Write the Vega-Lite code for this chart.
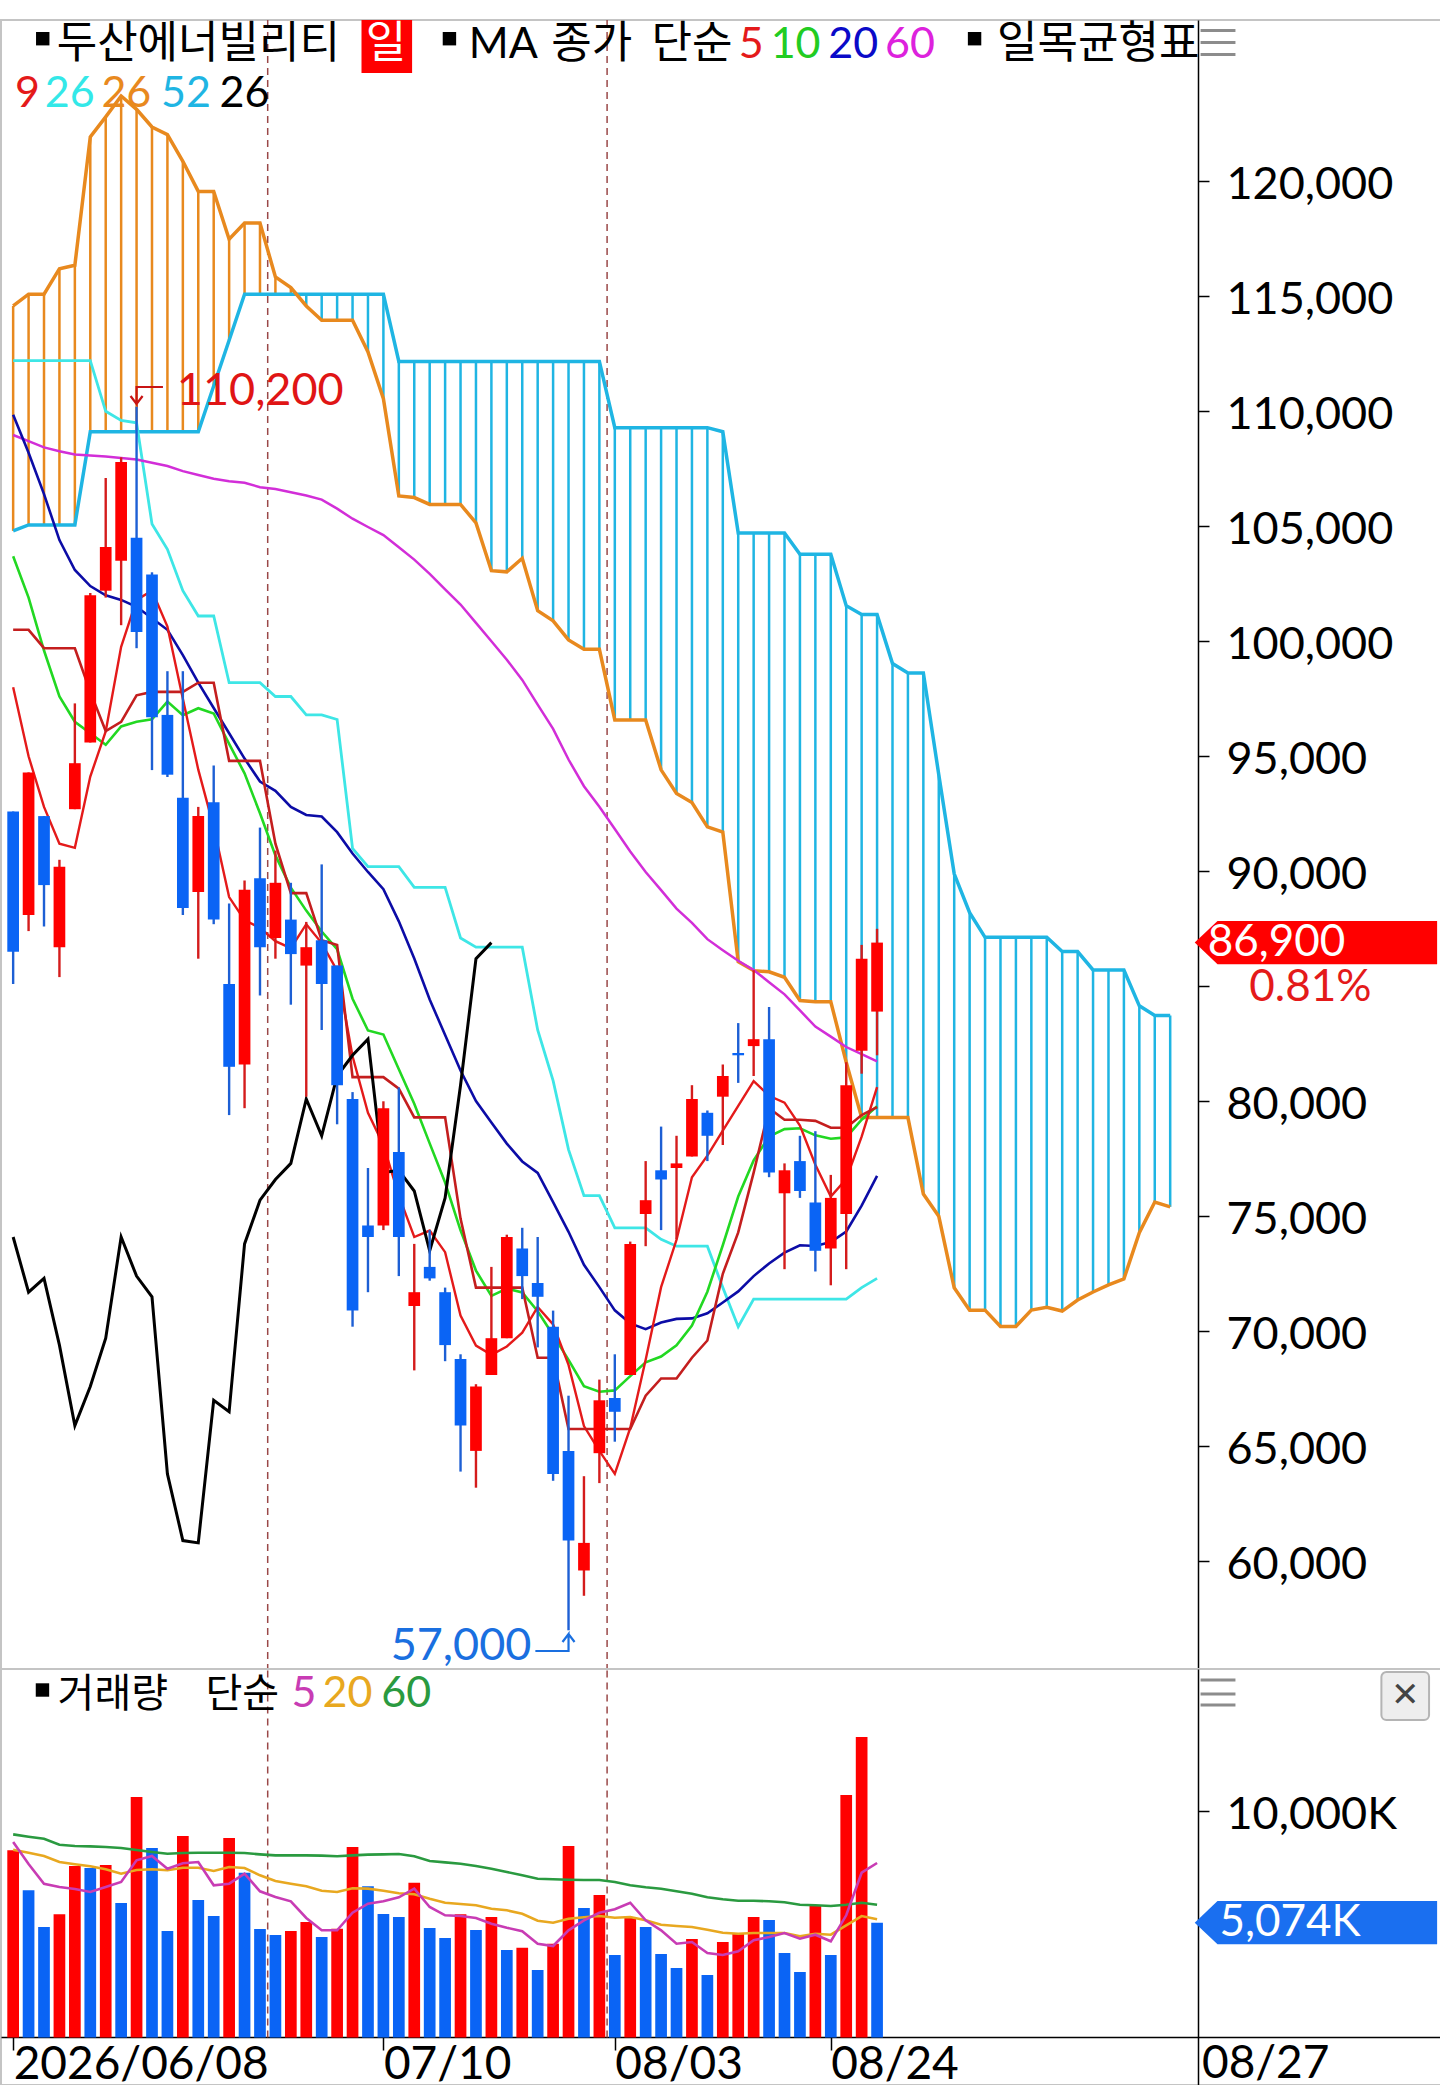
{
  "$schema": "https://vega.github.io/schema/vega-lite/v6.json",
  "background": "#ffffff",
  "padding": {"left": 0, "top": 18, "right": 0, "bottom": 2},
  "spacing": 0,
  "bounds": "flush",
  "resolve": {"scale": {"color": "independent"}},
  "datasets": {
    "months": [{"i": 17.5}, {"i": 39.5}],
    "candles": [
      {"i":1,"d":"2026-06-08","o":92600,"h":92600,"l":85100,"c":86500,"v":8275,"m5":98000,"m10":103700,"m20":109850,"m60":108970,"cv":100500,"bs":112200,"lg":74100,"vm5":8642,"vm20":8302,"vm60":8981},
      {"i":2,"d":"2026-06-09","o":88100,"h":94300,"l":87400,"c":94300,"v":6506,"m5":95000,"m10":101900,"m20":108200,"m60":108700,"cv":100500,"bs":112200,"lg":71700,"vm5":7669,"vm20":8169,"vm60":8877},
      {"i":3,"d":"2026-06-10","o":92400,"h":92400,"l":87600,"c":89400,"v":4883,"m5":92800,"m10":99600,"m20":106400,"m60":108430,"cv":99700,"bs":112200,"lg":72300,"vm5":6798,"vm20":8023,"vm60":8788},
      {"i":4,"d":"2026-06-11","o":86700,"h":90500,"l":85400,"c":90200,"v":5444,"m5":91200,"m10":97600,"m20":104400,"m60":108260,"cv":99700,"bs":112200,"lg":69400,"vm5":6652,"vm20":7758,"vm60":8523},
      {"i":5,"d":"2026-06-12","o":92700,"h":97300,"l":92700,"c":94700,"v":7581,"m5":91020,"m10":96500,"m20":103100,"m60":108120,"cv":99700,"bs":112200,"lg":65900,"vm5":6564,"vm20":7656,"vm60":8465},
      {"i":6,"d":"2026-06-15","o":95600,"h":102100,"l":95600,"c":102000,"v":7492,"m5":94120,"m10":96000,"m20":102400,"m60":108080,"cv":97800,"bs":112200,"lg":67600,"vm5":6431,"vm20":7567,"vm60":8451},
      {"i":7,"d":"2026-06-16","o":102200,"h":107100,"l":101900,"c":104100,"v":7625,"m5":96080,"m10":95500,"m20":102000,"m60":108030,"cv":96100,"bs":110000,"lg":69700,"vm5":6652,"vm20":7435,"vm60":8421},
      {"i":8,"d":"2026-06-17","o":103500,"h":108000,"l":100700,"c":107800,"v":5944,"m5":99760,"m10":96300,"m20":101800,"m60":107970,"cv":96500,"bs":109600,"lg":74100,"vm5":6873,"vm20":7240,"vm60":8377},
      {"i":9,"d":"2026-06-18","o":104500,"h":110200,"l":99700,"c":100400,"v":10632,"m5":101800,"m10":96500,"m20":101500,"m60":107900,"cv":97650,"bs":109500,"lg":72400,"vm5":7833,"vm20":7404,"vm60":8288},
      {"i":10,"d":"2026-06-19","o":102900,"h":103000,"l":94400,"c":96700,"v":8377,"m5":102200,"m10":96610,"m20":101000,"m60":107760,"cv":97800,"bs":105100,"lg":71500,"vm5":8023,"vm20":7435,"vm60":8200},
      {"i":11,"d":"2026-06-22","o":96800,"h":98700,"l":94100,"c":94200,"v":4706,"m5":100640,"m10":97380,"m20":100500,"m60":107620,"cv":97800,"bs":104000,"lg":63800,"vm5":7461,"vm20":7391,"vm60":8125},
      {"i":12,"d":"2026-06-23","o":93200,"h":98700,"l":88100,"c":88400,"v":8908,"m5":97500,"m10":96790,"m20":99400,"m60":107400,"cv":97800,"bs":102200,"lg":60900,"vm5":7700,"vm20":7506,"vm60":8155},
      {"i":13,"d":"2026-06-24","o":89100,"h":92800,"l":86200,"c":92400,"v":6077,"m5":94420,"m10":97090,"m20":98200,"m60":107230,"cv":98200,"bs":101100,"lg":60800,"vm5":7758,"vm20":7506,"vm60":8170},
      {"i":14,"d":"2026-06-25","o":93000,"h":94600,"l":87700,"c":87900,"v":5369,"m5":91920,"m10":96860,"m20":97100,"m60":107070,"cv":98200,"bs":101100,"lg":67000,"vm5":6727,"vm20":7360,"vm60":8170},
      {"i":15,"d":"2026-06-26","o":85100,"h":88600,"l":79400,"c":81500,"v":8819,"m5":88880,"m10":95540,"m20":96000,"m60":106960,"cv":94800,"bs":98200,"lg":66500,"vm5":6798,"vm20":7536,"vm60":8170},
      {"i":16,"d":"2026-06-29","o":81600,"h":89600,"l":79700,"c":89200,"v":7285,"m5":87880,"m10":94260,"m20":94900,"m60":106890,"cv":94800,"bs":98200,"lg":73800,"vm5":7240,"vm20":7494,"vm60":8155},
      {"i":17,"d":"2026-06-30","o":89700,"h":91900,"l":84600,"c":86700,"v":4794,"m5":87540,"m10":92520,"m20":93900,"m60":106700,"cv":94800,"bs":98200,"lg":75700,"vm5":6462,"vm20":7169,"vm60":8097},
      {"i":18,"d":"2026-07-01","o":87100,"h":90900,"l":86200,"c":89500,"v":4529,"m5":86960,"m10":90690,"m20":93500,"m60":106620,"cv":91200,"bs":97600,"lg":76600,"vm5":6210,"vm20":6917,"vm60":8053},
      {"i":19,"d":"2026-07-02","o":87900,"h":89500,"l":84200,"c":86400,"v":4706,"m5":86660,"m10":89290,"m20":92800,"m60":106480,"cv":89050,"bs":97600,"lg":77300,"vm5":6019,"vm20":6798,"vm60":8053},
      {"i":20,"d":"2026-07-03","o":85900,"h":87800,"l":80200,"c":86700,"v":5104,"m5":87700,"m10":88290,"m20":92450,"m60":106340,"cv":89050,"bs":96800,"lg":80100,"vm5":5281,"vm20":6683,"vm60":8053},
      {"i":21,"d":"2026-07-06","o":87000,"h":90300,"l":83100,"c":85100,"v":4440,"m5":86880,"m10":87380,"m20":92380,"m60":106160,"cv":87000,"bs":96800,"lg":78500,"vm5":4737,"vm20":6488,"vm60":8040},
      {"i":22,"d":"2026-07-07","o":85900,"h":85900,"l":79000,"c":80700,"v":4809,"m5":85680,"m10":86610,"m20":91700,"m60":105770,"cv":86800,"bs":96600,"lg":81100,"vm5":4737,"vm20":6431,"vm60":8010},
      {"i":23,"d":"2026-07-08","o":80100,"h":80400,"l":70200,"c":70900,"v":8421,"m5":81960,"m10":84460,"m20":90775,"m60":105330,"cv":81050,"bs":91000,"lg":82000,"vm5":5515,"vm20":6594,"vm60":8053},
      {"i":24,"d":"2026-07-09","o":74600,"h":77100,"l":71700,"c":74100,"v":6682,"m5":79500,"m10":83080,"m20":89970,"m60":104970,"cv":81050,"bs":90200,"lg":82700,"vm5":5913,"vm20":6579,"vm60":8083},
      {"i":25,"d":"2026-07-10","o":74600,"h":80000,"l":74400,"c":79700,"v":5458,"m5":78100,"m10":82900,"m20":89220,"m60":104620,"cv":81050,"bs":90200,"lg":76900,"vm5":6019,"vm20":6488,"vm60":8097},
      {"i":26,"d":"2026-07-13","o":77800,"h":80600,"l":72400,"c":74100,"v":5325,"m5":75900,"m10":81390,"m20":87825,"m60":104090,"cv":80550,"bs":90200,"lg":77000,"vm5":6196,"vm20":6373,"vm60":8112},
      {"i":27,"d":"2026-07-14","o":71100,"h":73800,"l":68300,"c":71700,"v":6843,"m5":74100,"m10":79890,"m20":86205,"m60":103550,"cv":79300,"bs":89300,"lg":76100,"vm5":6577,"vm20":6329,"vm60":8010},
      {"i":28,"d":"2026-07-15","o":72800,"h":74400,"l":72200,"c":72300,"v":4839,"m5":74380,"m10":78170,"m20":84430,"m60":102930,"cv":79300,"bs":89300,"lg":73500,"vm5":5767,"vm20":6134,"vm60":7802},
      {"i":29,"d":"2026-07-16","o":71700,"h":71900,"l":68700,"c":69400,"v":4396,"m5":73440,"m10":76470,"m20":82880,"m60":102260,"cv":79300,"bs":89300,"lg":75800,"vm5":5400,"vm20":5958,"vm60":7743},
      {"i":30,"d":"2026-07-20","o":68800,"h":69000,"l":63900,"c":65900,"v":5444,"m5":70680,"m10":74390,"m20":81340,"m60":101600,"cv":74900,"bs":87100,"lg":80700,"vm5":5369,"vm20":5900,"vm60":7683},
      {"i":31,"d":"2026-07-21","o":64800,"h":67700,"l":63200,"c":67600,"v":4750,"m5":69380,"m10":72640,"m20":80010,"m60":100800,"cv":71900,"bs":86700,"lg":86200,"vm5":5281,"vm20":5842,"vm60":7581},
      {"i":32,"d":"2026-07-22","o":68100,"h":72800,"l":68100,"c":69700,"v":5325,"m5":68980,"m10":71540,"m20":79075,"m60":100000,"cv":71900,"bs":86700,"lg":86900,"vm5":5029,"vm20":5692,"vm60":7461},
      {"i":33,"d":"2026-07-23","o":69700,"h":74200,"l":69700,"c":74100,"v":3866,"m5":69340,"m10":71860,"m20":78160,"m60":99200,"cv":71900,"bs":86700,"vm5":4852,"vm20":5621,"vm60":7315},
      {"i":34,"d":"2026-07-24","o":73600,"h":74500,"l":71400,"c":72400,"v":3969,"m5":69940,"m10":71690,"m20":77385,"m60":98320,"cv":71900,"bs":86700,"vm5":4693,"vm20":5471,"vm60":7169},
      {"i":35,"d":"2026-07-27","o":72100,"h":74100,"l":69300,"c":71500,"v":2981,"m5":71060,"m10":70870,"m20":76885,"m60":97250,"cv":68850,"bs":83100,"vm5":4144,"vm20":5161,"vm60":7019},
      {"i":36,"d":"2026-07-28","o":70200,"h":70900,"l":63500,"c":63800,"v":4146,"m5":70300,"m10":69840,"m20":75615,"m60":96190,"cv":68850,"bs":80900,"vm5":4043,"vm20":5073,"vm60":6992},
      {"i":37,"d":"2026-07-29","o":64800,"h":67200,"l":57000,"c":60900,"v":8465,"m5":68540,"m10":68760,"m20":74325,"m60":94860,"cv":65750,"bs":77900,"vm5":4737,"vm20":5250,"vm60":6975},
      {"i":38,"d":"2026-07-30","o":59600,"h":63700,"l":58500,"c":60800,"v":5723,"m5":65880,"m10":67610,"m20":72890,"m60":93700,"cv":65750,"bs":75900,"vm5":5179,"vm20":5312,"vm60":6961},
      {"i":39,"d":"2026-07-31","o":64700,"h":67900,"l":63400,"c":67000,"v":6298,"m5":64800,"m10":67370,"m20":71920,"m60":92810,"cv":65750,"bs":75900,"vm5":5515,"vm20":5369,"vm60":6961},
      {"i":40,"d":"2026-08-03","o":67100,"h":69000,"l":65200,"c":66500,"v":3644,"m5":63800,"m10":67430,"m20":70910,"m60":91840,"cv":65750,"bs":74500,"vm5":5666,"vm20":5294,"vm60":6873},
      {"i":41,"d":"2026-08-04","o":68100,"h":73900,"l":68100,"c":73800,"v":5325,"m5":65800,"m10":68050,"m20":70345,"m60":90860,"cv":65750,"bs":74500,"vm5":5958,"vm20":5325,"vm60":6727},
      {"i":42,"d":"2026-08-05","o":75100,"h":77400,"l":73700,"c":75700,"v":4883,"m5":68760,"m10":68650,"m20":70095,"m60":89970,"cv":67200,"bs":74500,"vm5":5179,"vm20":5179,"vm60":6638},
      {"i":43,"d":"2026-08-06","o":77000,"h":78900,"l":74400,"c":76600,"v":3689,"m5":71920,"m10":68900,"m20":70380,"m60":89180,"cv":67950,"bs":74000,"vm5":4737,"vm20":4984,"vm60":6577},
      {"i":44,"d":"2026-08-07","o":77100,"h":78500,"l":74000,"c":77300,"v":3069,"m5":73980,"m10":69390,"m20":70540,"m60":88380,"cv":67950,"bs":73700,"vm5":4144,"vm20":4927,"vm60":6462},
      {"i":45,"d":"2026-08-10","o":77600,"h":80700,"l":77600,"c":80100,"v":4352,"m5":76700,"m10":70250,"m20":70560,"m60":87760,"cv":68850,"bs":73700,"vm5":4219,"vm20":4883,"vm60":6356},
      {"i":46,"d":"2026-08-11","o":79500,"h":79600,"l":77400,"c":78500,"v":2760,"m5":77640,"m10":71720,"m20":70780,"m60":87050,"cv":69600,"bs":73700,"vm5":3733,"vm20":4763,"vm60":6196},
      {"i":47,"d":"2026-08-12","o":80200,"h":81600,"l":78100,"c":81100,"v":4219,"m5":78720,"m10":73740,"m20":71250,"m60":86570,"cv":72500,"bs":71900,"vm5":3644,"vm20":4631,"vm60":6108},
      {"i":48,"d":"2026-08-13","o":82100,"h":83400,"l":80800,"c":82000,"v":4573,"m5":79800,"m10":75860,"m20":71735,"m60":86110,"cv":74300,"bs":70200,"vm5":3808,"vm20":4586,"vm60":6046},
      {"i":49,"d":"2026-08-14","o":82400,"h":85700,"l":81100,"c":82700,"v":5325,"m5":80880,"m10":77430,"m20":72400,"m60":85710,"cv":76900,"bs":71400,"vm5":4295,"vm20":4616,"vm60":6046},
      {"i":50,"d":"2026-08-18","o":82700,"h":84100,"l":76700,"c":76900,"v":5192,"m5":80240,"m10":78470,"m20":72950,"m60":85180,"cv":79700,"bs":71400,"vm5":4440,"vm20":4616,"vm60":6019},
      {"i":51,"d":"2026-08-19","o":76000,"h":77300,"l":72700,"c":77000,"v":3733,"m5":79940,"m10":78790,"m20":73420,"m60":84650,"cv":79200,"bs":71400,"vm5":4617,"vm20":4616,"vm60":5975},
      {"i":52,"d":"2026-08-20","o":77400,"h":78500,"l":75800,"c":76100,"v":2893,"m5":78940,"m10":78830,"m20":73740,"m60":83950,"cv":79200,"bs":71400,"vm5":4365,"vm20":4471,"vm60":5869},
      {"i":53,"d":"2026-08-21","o":75600,"h":78700,"l":72600,"c":73500,"v":5812,"m5":77240,"m10":78520,"m20":73710,"m60":83250,"cv":79150,"bs":71400,"vm5":4542,"vm20":4586,"vm60":5842},
      {"i":54,"d":"2026-08-24","o":73600,"h":76800,"l":72000,"c":75800,"v":3644,"m5":75860,"m10":78370,"m20":73880,"m60":82810,"cv":78850,"bs":71400,"vm5":4250,"vm20":4542,"vm60":5812},
      {"i":55,"d":"2026-08-25","o":75100,"h":81700,"l":72700,"c":80700,"v":10721,"m5":76620,"m10":78430,"m20":74340,"m60":82360,"cv":78850,"bs":71400,"vm5":5400,"vm20":4958,"vm60":5869},
      {"i":56,"d":"2026-08-26","o":82200,"h":86800,"l":81200,"c":86200,"v":13286,"m5":78460,"m10":79200,"m20":75460,"m60":82050,"cv":79400,"bs":71900,"vm5":7285,"vm20":5369,"vm60":5958},
      {"i":57,"d":"2026-08-27","o":83900,"h":87500,"l":82000,"c":86900,"v":5074,"m5":80620,"m10":79780,"m20":76760,"m60":81740,"cv":79750,"bs":72300,"vm5":7713,"vm20":5223,"vm60":5869}
    ],
    "cloud": [
      {"i":1,"a":114580,"b":104800},{"i":2,"a":115090,"b":105060},{"i":3,"a":115090,"b":105060},{"i":4,"a":116200,"b":105060},
      {"i":5,"a":116350,"b":105060},{"i":6,"a":121930,"b":109110},{"i":7,"a":122800,"b":109110},{"i":8,"a":123710,"b":109110},
      {"i":9,"a":123130,"b":109110},{"i":10,"a":122360,"b":109110},{"i":11,"a":122030,"b":109110},{"i":12,"a":120870,"b":109110},
      {"i":13,"a":119560,"b":109110},{"i":14,"a":119560,"b":111100},{"i":15,"a":117480,"b":113090},{"i":16,"a":118190,"b":115090},
      {"i":17,"a":118190,"b":115090},{"i":18,"a":115840,"b":115090},{"i":19,"a":115380,"b":115090},{"i":20,"a":114580,"b":115090},
      {"i":21,"a":113960,"b":115090},{"i":22,"a":113960,"b":115090},{"i":23,"a":113960,"b":115090},{"i":24,"a":112580,"b":115090},
      {"i":25,"a":110550,"b":115090},{"i":26,"a":106320,"b":112170},{"i":27,"a":106250,"b":112170},{"i":28,"a":105950,"b":112170},
      {"i":29,"a":105950,"b":112170},{"i":30,"a":105950,"b":112170},{"i":31,"a":105150,"b":112170},{"i":32,"a":103070,"b":112170},
      {"i":33,"a":103020,"b":112170},{"i":34,"a":103610,"b":112170},{"i":35,"a":101330,"b":112170},{"i":36,"a":100890,"b":112170},
      {"i":37,"a":100060,"b":112170},{"i":38,"a":99650,"b":112170},{"i":39,"a":99650,"b":112170},{"i":40,"a":96580,"b":109290},
      {"i":41,"a":96580,"b":109290},{"i":42,"a":96580,"b":109290},{"i":43,"a":94410,"b":109290},{"i":44,"a":93380,"b":109290},
      {"i":45,"a":92990,"b":109290},{"i":46,"a":91930,"b":109290},{"i":47,"a":91710,"b":109110},{"i":48,"a":86070,"b":104710},
      {"i":49,"a":85680,"b":104710},{"i":50,"a":85630,"b":104710},{"i":51,"a":85390,"b":104710},{"i":52,"a":84380,"b":103780},
      {"i":53,"a":84330,"b":103780},{"i":54,"a":84330,"b":103780},{"i":55,"a":81700,"b":101550},{"i":56,"a":79290,"b":101160},
      {"i":57,"a":79290,"b":101160},{"i":58,"a":79290,"b":99030},{"i":59,"a":79290,"b":98620},{"i":60,"a":75970,"b":98620},
      {"i":61,"a":75000,"b":94200},{"i":62,"a":71890,"b":89890},{"i":63,"a":70920,"b":88200},{"i":64,"a":70920,"b":87130},
      {"i":65,"a":70210,"b":87130},{"i":66,"a":70210,"b":87130},{"i":67,"a":70920,"b":87130},{"i":68,"a":71040,"b":87130},
      {"i":69,"a":70880,"b":86510},{"i":70,"a":71360,"b":86510},{"i":71,"a":71710,"b":85710},{"i":72,"a":72020,"b":85710},
      {"i":73,"a":72280,"b":85710},{"i":74,"a":74290,"b":84150},{"i":75,"a":75620,"b":83730},{"i":76,"a":75410,"b":83730}
    ],
    "arrows": [
      {"g":"hi","n":1,"i":10.71,"p":111057},{"g":"hi","n":2,"i":9.0,"p":111057},{"g":"hi","n":3,"i":9.0,"p":110317},
      {"g":"hi","n":4,"i":8.61,"p":110665},{"g":"hi","n":5,"i":9.0,"p":110317},{"g":"hi","n":6,"i":9.39,"p":110665},
      {"g":"lo","n":1,"i":34.85,"p":56100},{"g":"lo","n":2,"i":37.0,"p":56100},{"g":"lo","n":3,"i":37.0,"p":56839},
      {"g":"lo","n":4,"i":36.61,"p":56491},{"g":"lo","n":5,"i":37.0,"p":56839},{"g":"lo","n":6,"i":37.39,"p":56491}
    ],
    "ptext": [
      {"g":"kr","t":"두산에너빌리티","i":3.82,"p":125361,"k":"종목"},
      {"g":"kr","t":"일","i":23.85,"p":125361,"k":"일봉"},
      {"g":"kr","t":"종가","i":35.88,"p":125361,"k":"종목"},
      {"g":"kr","t":"단순","i":42.38,"p":125361,"k":"종목"},
      {"g":"kr","t":"일목균형표","i":64.78,"p":125361,"k":"종목"},
      {"g":"num","t":"MA","i":30.53,"p":125361,"k":"종목"},
      {"g":"num","t":"5","i":48.04,"p":125361,"k":"MA5"},
      {"g":"num","t":"10","i":50.1,"p":125361,"k":"MA10"},
      {"g":"num","t":"20","i":53.84,"p":125361,"k":"MA20"},
      {"g":"num","t":"60","i":57.51,"p":125361,"k":"MA60"},
      {"g":"num","t":"9","i":1.12,"p":123230,"k":"전환선"},
      {"g":"num","t":"26","i":3.05,"p":123230,"k":"기준선"},
      {"g":"num","t":"26","i":6.72,"p":123230,"k":"선행스팬1"},
      {"g":"num","t":"52","i":10.58,"p":123230,"k":"선행스팬2"},
      {"g":"num","t":"26","i":14.38,"p":123230,"k":"후행스팬"},
      {"g":"tag","t":"86,900","i":78.43,"p":86900,"k":"현재가"},
      {"g":"tag","t":"0.81%","i":81.13,"p":84926,"k":"등락률"},
      {"g":"hi","t":"110,200","i":11.61,"p":110274,"k":"최고"},
      {"g":"lo","t":"57,000","i":34.59,"p":55730,"k":"최저"}
    ],
    "psq": [{"i":2.918,"p":126200},{"i":29.28,"p":126200},{"i":63.32,"p":126200}],
    "pbox": [{"x1":23.58,"x2":26.86,"y1":124709,"y2":127013}],
    "ptag": [{"i":77.59,"p":86900}],
    "picon": [{"x1":77.97,"x2":80.23,"p":126557},{"x1":77.97,"x2":80.23,"p":126035},{"x1":77.97,"x2":80.23,"p":125513}],
    "vtext": [
      {"g":"kr","t":"거래량","i":3.88,"v":14613,"k":"종목"},
      {"g":"kr","t":"단순","i":13.47,"v":14613,"k":"종목"},
      {"g":"num","t":"5","i":19.05,"v":14613,"k":"V5"},
      {"g":"num","t":"20","i":21.05,"v":14613,"k":"V20"},
      {"g":"num","t":"60","i":24.86,"v":14613,"k":"V60"},
      {"g":"tag","t":"5,074K","i":79.2,"v":5074,"k":"현재량"},
      {"g":"date","t":"08/27","i":78.06,"v":-203,"k":"종목"}
    ],
    "vsq": [{"i":2.9,"v":15365}],
    "vtag": [{"i":77.59,"v":5074}],
    "vicon": [{"x1":77.97,"x2":80.23,"v":15807},{"x1":77.97,"x2":80.23,"v":15188},{"x1":77.97,"x2":80.23,"v":14701}],
    "vbox": [{"x1":89.69,"x2":92.78,"y1":14038,"y2":16161}],
    "vclose": [{"i":91.23,"v":15100}]
  },
  "vconcat": [
    {
      "width": 1440,
      "height": 1649,
      "layer": [
        {
          "data": {"name": "months"},
          "mark": {"type": "rule", "color": "#9a4848", "strokeDash": [7, 5], "strokeWidth": 1.5},
          "encoding": {
            "x": {"field": "i", "type": "quantitative", "scale": {"domain": [0.5365, 93.23], "nice": false, "zero": false}, "axis": null}
          }
        },
        {
          "data": {"name": "cloud"},
          "mark": {"type": "rule", "strokeWidth": 2.5},
          "encoding": {
            "x": {"field": "i", "type": "quantitative", "axis": null},
            "y": {
              "field": "a", "type": "quantitative",
              "scale": {"domain": [55317, 127013], "nice": false, "zero": false},
              "axis": {
                "orient": "right", "offset": -243, "title": null, "grid": false,
                "values": [60000, 65000, 70000, 75000, 80000, 85000, 90000, 95000, 100000, 105000, 110000, 115000, 120000],
                "labelExpr": "datum.value == 85000 ? '' : format(datum.value, ',')",
                "tickSize": 11, "labelPadding": 17, "labelFontSize": 45, "labelFont": "Lato",
                "labelAlign": "left", "labelBaseline": "alphabetic", "labelOffset": 17, "labelOverlap": false, "labelFlush": false, "labelBound": false,
                "domainColor": "#000000", "tickColor": "#000000", "labelColor": "#000000", "domainWidth": 1.5, "tickWidth": 1.5
              }
            },
            "y2": {"field": "b"},
            "color": {"condition": {"test": "datum.a >= datum.b", "value": "#e8891e"}, "value": "#1fb5e3"}
          }
        },
        {
          "data": {"name": "cloud"},
          "mark": {"type": "line", "color": "#1fb5e3", "strokeWidth": 3.5},
          "encoding": {
            "x": {"field": "i", "type": "quantitative", "axis": null},
            "y": {"field": "b", "type": "quantitative"}
          }
        },
        {
          "data": {"name": "cloud"},
          "mark": {"type": "line", "color": "#e8891e", "strokeWidth": 3.5},
          "encoding": {
            "x": {"field": "i", "type": "quantitative", "axis": null},
            "y": {"field": "a", "type": "quantitative"}
          }
        },
        {
          "data": {"name": "candles"},
          "mark": {"type": "line", "color": "#3ee6e6", "strokeWidth": 2.8},
          "encoding": {
            "x": {"field": "i", "type": "quantitative", "axis": null},
            "y": {"field": "bs", "type": "quantitative"}
          }
        },
        {
          "data": {"name": "candles"},
          "mark": {"type": "line", "color": "#d22ed8", "strokeWidth": 2.5},
          "encoding": {
            "x": {"field": "i", "type": "quantitative", "axis": null},
            "y": {"field": "m60", "type": "quantitative"}
          }
        },
        {
          "data": {"name": "candles"},
          "mark": {"type": "line", "color": "#0c0ca6", "strokeWidth": 2.6},
          "encoding": {
            "x": {"field": "i", "type": "quantitative", "axis": null},
            "y": {"field": "m20", "type": "quantitative"}
          }
        },
        {
          "data": {"name": "candles"},
          "mark": {"type": "line", "color": "#22d822", "strokeWidth": 2.6},
          "encoding": {
            "x": {"field": "i", "type": "quantitative", "axis": null},
            "y": {"field": "m10", "type": "quantitative"}
          }
        },
        {
          "data": {"name": "candles"},
          "mark": {"type": "line", "color": "#e41a1a", "strokeWidth": 2.4},
          "encoding": {
            "x": {"field": "i", "type": "quantitative", "axis": null},
            "y": {"field": "m5", "type": "quantitative"}
          }
        },
        {
          "data": {"name": "candles"},
          "mark": {"type": "line", "color": "#c41e1e", "strokeWidth": 2.6},
          "encoding": {
            "x": {"field": "i", "type": "quantitative", "axis": null},
            "y": {"field": "cv", "type": "quantitative"}
          }
        },
        {
          "data": {"name": "candles"},
          "transform": [{"filter": "isValid(datum.lg)"}],
          "mark": {"type": "line", "color": "#000000", "strokeWidth": 3},
          "encoding": {
            "x": {"field": "i", "type": "quantitative", "axis": null},
            "y": {"field": "lg", "type": "quantitative"}
          }
        },
        {
          "data": {"name": "candles"},
          "mark": {"type": "rule", "strokeWidth": 2.4},
          "encoding": {
            "x": {"field": "i", "type": "quantitative", "axis": null},
            "y": {"field": "l", "type": "quantitative"},
            "y2": {"field": "h"},
            "color": {"condition": {"test": "datum.c >= datum.o", "value": "#d41c1c"}, "value": "#1d5fd4"}
          }
        },
        {
          "data": {"name": "candles"},
          "mark": {"type": "bar", "width": 11.7},
          "encoding": {
            "x": {"field": "i", "type": "quantitative", "axis": null},
            "y": {"field": "o", "type": "quantitative"},
            "y2": {"field": "c"},
            "color": {"condition": {"test": "datum.c >= datum.o", "value": "#ff0000"}, "value": "#0a64f5"}
          }
        },
        {
          "data": {"name": "arrows"},
          "mark": {"type": "line", "strokeWidth": 2.2},
          "encoding": {
            "x": {"field": "i", "type": "quantitative", "axis": null},
            "y": {"field": "p", "type": "quantitative"},
            "detail": {"field": "g"},
            "order": {"field": "n"},
            "color": {"condition": {"test": "datum.g === 'hi'", "value": "#c81414"}, "value": "#1a6fe0"}
          }
        },
        {
          "data": {"name": "pbox"},
          "mark": {"type": "rect", "color": "#ff0000"},
          "encoding": {
            "x": {"field": "x1", "type": "quantitative", "axis": null},
            "x2": {"field": "x2"},
            "y": {"field": "y1", "type": "quantitative"},
            "y2": {"field": "y2"}
          }
        },
        {
          "data": {"name": "psq"},
          "mark": {"type": "point", "shape": "square", "size": 180, "filled": true, "opacity": 1, "color": "#000000"},
          "encoding": {
            "x": {"field": "i", "type": "quantitative", "axis": null},
            "y": {"field": "p", "type": "quantitative"}
          }
        },
        {
          "data": {"name": "picon"},
          "mark": {"type": "rule", "color": "#8c8c8c", "strokeWidth": 3.2},
          "encoding": {
            "x": {"field": "x1", "type": "quantitative", "axis": null},
            "x2": {"field": "x2"},
            "y": {"field": "p", "type": "quantitative"}
          }
        },
        {
          "data": {"name": "ptag"},
          "mark": {"type": "point", "shape": "M0,0L0.19,-0.18L2.02,-0.18L2.02,0.18L0.19,0.18Z", "size": 57600, "filled": true, "opacity": 1, "color": "#ff0000", "strokeWidth": 0},
          "encoding": {
            "x": {"field": "i", "type": "quantitative", "axis": null},
            "y": {"field": "p", "type": "quantitative"}
          }
        },
        {
          "data": {"name": "ptext"},
          "transform": [{"filter": "datum.g == 'kr'"}],
          "mark": {"type": "text", "align": "left", "baseline": "alphabetic", "fontSize": 44},
          "encoding": {
            "x": {"field": "i", "type": "quantitative", "axis": null},
            "y": {"field": "p", "type": "quantitative"},
            "text": {"field": "t"},
            "color": {
              "field": "k", "type": "nominal", "legend": null,
              "scale": {
                "domain": ["종목", "일봉", "MA5", "MA10", "MA20", "MA60", "전환선", "기준선", "선행스팬1", "선행스팬2", "후행스팬", "현재가", "등락률", "최고", "최저"],
                "range": ["#000000", "#ffffff", "#e41a1a", "#22cc22", "#0a0ac8", "#dd22dd", "#e41a1a", "#33e8e8", "#e8891e", "#1fb5e3", "#000000", "#ffffff", "#e41a1a", "#e01515", "#1a6fe0"]
              }
            }
          }
        },
        {
          "data": {"name": "ptext"},
          "transform": [{"filter": "datum.g == 'num'"}],
          "mark": {"type": "text", "align": "left", "baseline": "alphabetic", "fontSize": 43},
          "encoding": {
            "x": {"field": "i", "type": "quantitative", "axis": null},
            "y": {"field": "p", "type": "quantitative"},
            "text": {"field": "t"},
            "color": {"field": "k", "type": "nominal", "legend": null}
          }
        },
        {
          "data": {"name": "ptext"},
          "transform": [{"filter": "datum.g == 'tag'"}],
          "mark": {"type": "text", "align": "left", "baseline": "middle", "fontSize": 44},
          "encoding": {
            "x": {"field": "i", "type": "quantitative", "axis": null},
            "y": {"field": "p", "type": "quantitative"},
            "text": {"field": "t"},
            "color": {"field": "k", "type": "nominal", "legend": null}
          }
        },
        {
          "data": {"name": "ptext"},
          "transform": [{"filter": "datum.g == 'hi'"}],
          "mark": {"type": "text", "align": "left", "baseline": "alphabetic", "fontSize": 45},
          "encoding": {
            "x": {"field": "i", "type": "quantitative", "axis": null},
            "y": {"field": "p", "type": "quantitative"},
            "text": {"field": "t"},
            "color": {"field": "k", "type": "nominal", "legend": null}
          }
        },
        {
          "data": {"name": "ptext"},
          "transform": [{"filter": "datum.g == 'lo'"}],
          "mark": {"type": "text", "align": "right", "baseline": "alphabetic", "fontSize": 45},
          "encoding": {
            "x": {"field": "i", "type": "quantitative", "axis": null},
            "y": {"field": "p", "type": "quantitative"},
            "text": {"field": "t"},
            "color": {"field": "k", "type": "nominal", "legend": null}
          }
        }
      ]
    },
    {
      "width": 1440,
      "height": 416,
      "layer": [
        {
          "data": {"name": "candles"},
          "transform": [{"window": [{"op": "lag", "field": "v", "as": "pv"}], "sort": [{"field": "i"}]}],
          "mark": {"type": "bar", "width": 11.7},
          "encoding": {
            "x": {
              "field": "i", "type": "quantitative",
              "scale": {"domain": [0.5365, 93.23], "nice": false, "zero": false},
              "axis": {
                "orient": "bottom", "offset": -48, "title": null, "grid": false,
                "values": [1, 25, 40, 54],
                "labelExpr": "datum.value == 1 ? '2026/06/08' : datum.value == 25 ? '07/10' : datum.value == 40 ? '08/03' : '08/24'",
                "labelAlign": "left", "labelBaseline": "top", "labelOffset": 0, "labelPadding": -8, "labelLimit": 0,
                "tickSize": 13, "labelFontSize": 46, "labelFont": "Lato", "labelFlush": false, "labelOverlap": false, "labelBound": false,
                "domainColor": "#000000", "tickColor": "#000000", "labelColor": "#000000", "domainWidth": 1.5, "tickWidth": 1.5
              }
            },
            "y": {
              "field": "v", "type": "quantitative",
              "scale": {"domain": [-2105, 16294], "nice": false, "zero": false},
              "axis": {
                "orient": "right", "offset": -243, "title": null, "grid": false,
                "values": [10000],
                "labelExpr": "format(datum.value, ',') + 'K'",
                "tickSize": 11, "labelPadding": 17, "labelFontSize": 45, "labelFont": "Lato",
                "labelAlign": "left", "labelBaseline": "alphabetic", "labelOffset": 17, "labelBound": false,
                "domainColor": "#000000", "tickColor": "#000000", "labelColor": "#000000", "domainWidth": 1.5, "tickWidth": 1.5
              }
            },
            "y2": {"datum": 0},
            "color": {"condition": {"test": "datum.pv == null || datum.v > datum.pv", "value": "#ff0000"}, "value": "#0a64f5"}
          }
        },
        {
          "data": {"name": "months"},
          "mark": {"type": "rule", "color": "#9a4848", "strokeDash": [7, 5], "strokeWidth": 1.5},
          "encoding": {
            "x": {"field": "i", "type": "quantitative"},
            "y": {"datum": 0, "type": "quantitative"},
            "y2": {"datum": 16294}
          }
        },
        {
          "data": {"name": "candles"},
          "mark": {"type": "line", "color": "#2a9a40", "strokeWidth": 2.6},
          "encoding": {
            "x": {"field": "i", "type": "quantitative"},
            "y": {"field": "vm60", "type": "quantitative"}
          }
        },
        {
          "data": {"name": "candles"},
          "mark": {"type": "line", "color": "#e8a820", "strokeWidth": 2.6},
          "encoding": {
            "x": {"field": "i", "type": "quantitative"},
            "y": {"field": "vm20", "type": "quantitative"}
          }
        },
        {
          "data": {"name": "candles"},
          "mark": {"type": "line", "color": "#c83cb4", "strokeWidth": 2.6},
          "encoding": {
            "x": {"field": "i", "type": "quantitative"},
            "y": {"field": "vm5", "type": "quantitative"}
          }
        },
        {
          "data": {"name": "vsq"},
          "mark": {"type": "point", "shape": "square", "size": 180, "filled": true, "opacity": 1, "color": "#000000"},
          "encoding": {
            "x": {"field": "i", "type": "quantitative"},
            "y": {"field": "v", "type": "quantitative"}
          }
        },
        {
          "data": {"name": "vtag"},
          "mark": {"type": "point", "shape": "M0,0L0.19,-0.18L2.02,-0.18L2.02,0.18L0.19,0.18Z", "size": 57600, "filled": true, "opacity": 1, "color": "#1a6ff0", "strokeWidth": 0},
          "encoding": {
            "x": {"field": "i", "type": "quantitative"},
            "y": {"field": "v", "type": "quantitative"}
          }
        },
        {
          "data": {"name": "vbox"},
          "mark": {"type": "rect", "fill": "#eeeeee", "stroke": "#b4b4b4", "strokeWidth": 2, "cornerRadius": 5},
          "encoding": {
            "x": {"field": "x1", "type": "quantitative"},
            "x2": {"field": "x2"},
            "y": {"field": "y1", "type": "quantitative"},
            "y2": {"field": "y2"}
          }
        },
        {
          "data": {"name": "vclose"},
          "mark": {"type": "text", "text": "✕", "font": "DejaVu Sans", "fontSize": 34, "color": "#444444", "align": "center", "baseline": "middle"},
          "encoding": {
            "x": {"field": "i", "type": "quantitative"},
            "y": {"field": "v", "type": "quantitative"}
          }
        },
        {
          "data": {"name": "vicon"},
          "mark": {"type": "rule", "color": "#8c8c8c", "strokeWidth": 3.2},
          "encoding": {
            "x": {"field": "x1", "type": "quantitative"},
            "x2": {"field": "x2"},
            "y": {"field": "v", "type": "quantitative"}
          }
        },
        {
          "data": {"name": "vtext"},
          "transform": [{"filter": "datum.g == 'kr'"}],
          "mark": {"type": "text", "align": "left", "baseline": "alphabetic", "fontSize": 40},
          "encoding": {
            "x": {"field": "i", "type": "quantitative"},
            "y": {"field": "v", "type": "quantitative"},
            "text": {"field": "t"},
            "color": {
              "field": "k", "type": "nominal", "legend": null,
              "scale": {"domain": ["종목", "V5", "V20", "V60", "현재량"], "range": ["#000000", "#c83cb4", "#e8a820", "#2a9a40", "#ffffff"]}
            }
          }
        },
        {
          "data": {"name": "vtext"},
          "transform": [{"filter": "datum.g == 'num'"}],
          "mark": {"type": "text", "align": "left", "baseline": "alphabetic", "fontSize": 43},
          "encoding": {
            "x": {"field": "i", "type": "quantitative"},
            "y": {"field": "v", "type": "quantitative"},
            "text": {"field": "t"},
            "color": {"field": "k", "type": "nominal", "legend": null}
          }
        },
        {
          "data": {"name": "vtext"},
          "transform": [{"filter": "datum.g == 'tag'"}],
          "mark": {"type": "text", "align": "left", "baseline": "middle", "fontSize": 44},
          "encoding": {
            "x": {"field": "i", "type": "quantitative"},
            "y": {"field": "v", "type": "quantitative"},
            "text": {"field": "t"},
            "color": {"field": "k", "type": "nominal", "legend": null}
          }
        },
        {
          "data": {"name": "vtext"},
          "transform": [{"filter": "datum.g == 'date'"}],
          "mark": {"type": "text", "align": "left", "baseline": "top", "fontSize": 46},
          "encoding": {
            "x": {"field": "i", "type": "quantitative"},
            "y": {"field": "v", "type": "quantitative"},
            "text": {"field": "t"},
            "color": {"field": "k", "type": "nominal", "legend": null}
          }
        }
      ]
    }
  ],
  "config": {
    "font": "Lato, Noto Sans CJK KR, sans-serif",
    "view": {"stroke": "#c4c4c4", "strokeWidth": 2},
    "axis": {"grid": false}
  }
}
